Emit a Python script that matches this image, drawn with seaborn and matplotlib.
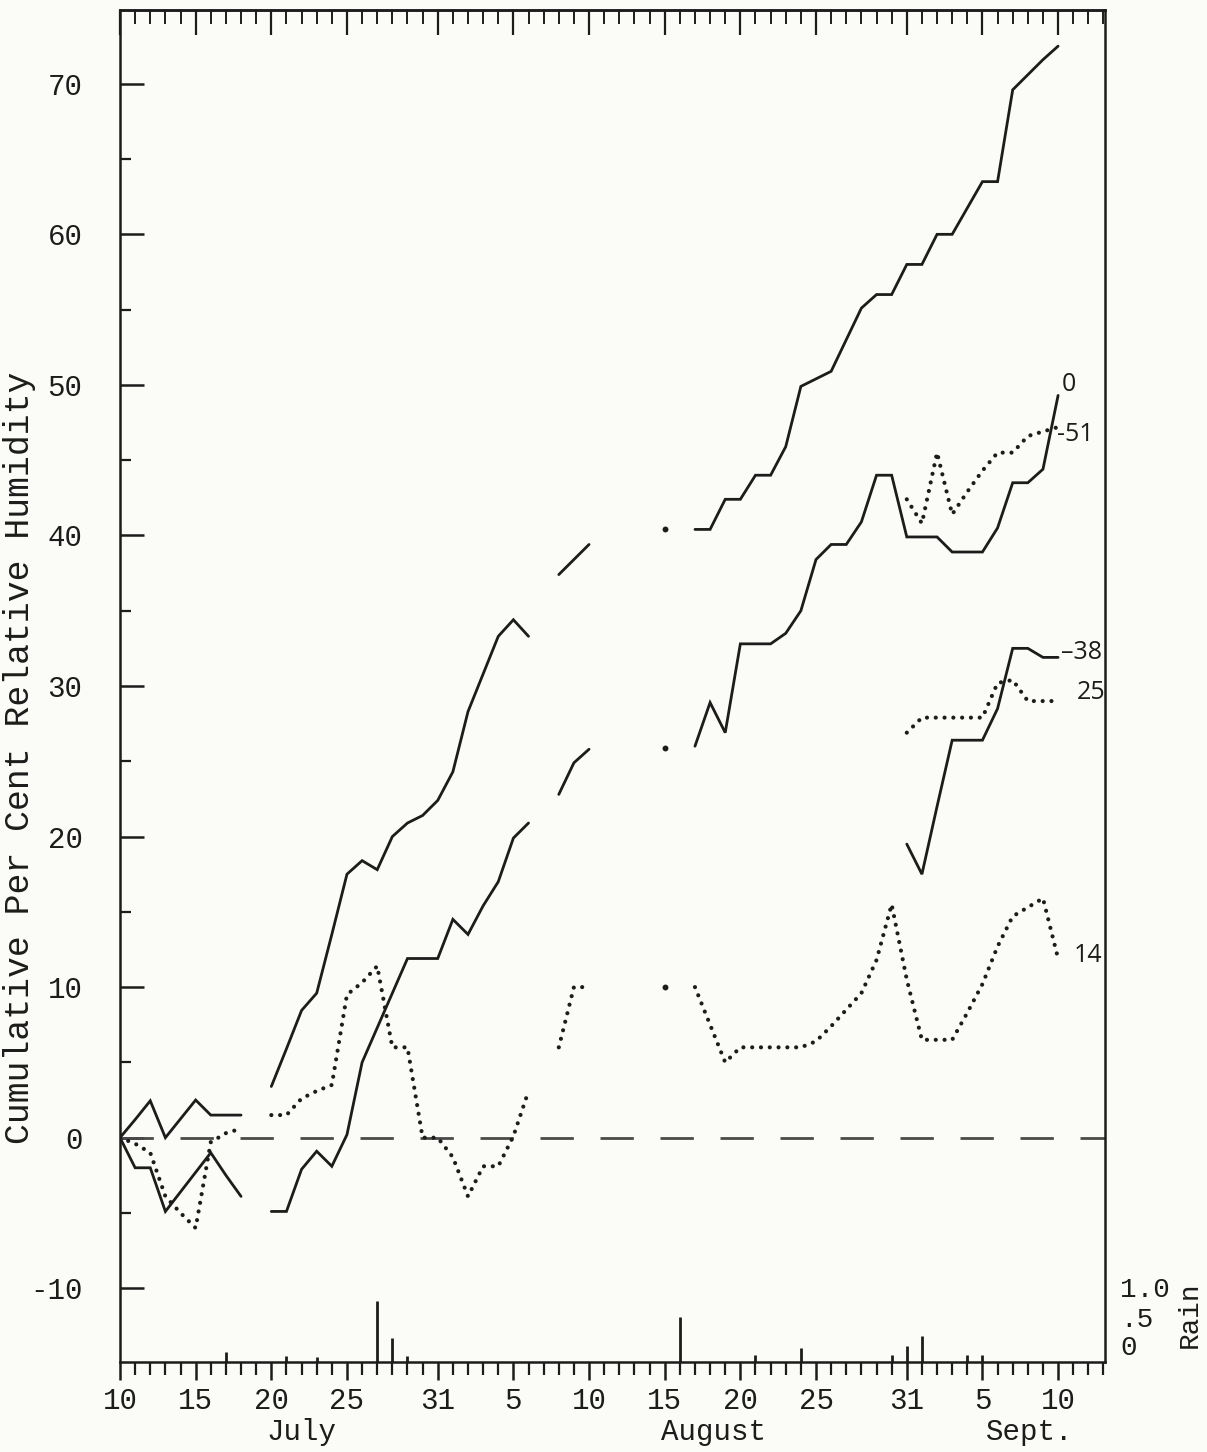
import numpy as np
import pandas as pd
import matplotlib
matplotlib.use("Agg")
import matplotlib.pyplot as plt
from matplotlib.ticker import MultipleLocator
from matplotlib.transforms import ScaledTranslation, blended_transform_factory
import seaborn as sns

nan = np.nan

# ---------------- data ----------------
day = list(range(63))  # days counted from July 10
tick_days = [0, 5, 10, 15, 21, 26, 31, 36, 41, 46, 52, 57, 62]
tick_labels = ["10", "15", "20", "25", "31", "5", "10", "15", "20", "25", "31", "5", "10"]
month_names = ["July", "August", "Sept."]

top_curve = [0, 1.2, 2.45, 0, 1.25, 2.5, 1.5, 1.5, 1.5, nan,
             3.4, 5.9, 8.45, 9.6, 13.5, 17.5, 18.4, 17.8, 20.0, 20.9,
             21.4, 22.4, 24.3, 28.3, 30.8, 33.3, 34.4, 33.3, nan, 37.4,
             38.4, 39.4, nan, nan, nan, nan, 40.4, nan, 40.4, 40.4,
             42.4, 42.4, 44.0, 44.0, 45.9, 49.9, 50.4, 50.9, 53.0, 55.1,
             56.0, 56.0, 58.0, 58.0, 60.0, 60.0, 61.75, 63.5, 63.5, 69.6,
             70.6, 71.6, 72.5]

depth_0 = [0, -2.0, -2.0, -4.9, -3.6, -2.3, -1.0, -2.5, -3.9, nan,
           -4.9, -4.9, -2.1, -0.9, -1.9, 0.2, 5.0, 7.3, 9.6, 11.9,
           11.9, 11.9, 14.5, 13.5, 15.4, 17.0, 19.9, 20.9, nan, 22.8,
           24.9, 25.8, nan, nan, nan, nan, 25.9, nan, 26.0, 28.9,
           26.9, 32.8, 32.8, 32.8, 33.5, 35.0, 38.4, 39.4, 39.4, 40.9,
           44.0, 44.0, 39.9, 39.9, 39.9, 38.9, 38.9, 38.9, 40.5, 43.5,
           43.5, 44.4, 49.3]

depth_14 = [0, -0.4, -1.0, -3.9, -5.0, -6.0, -0.3, 0.3, 0.6, nan,
            1.5, 1.5, 2.6, 3.1, 3.5, 9.5, 10.3, 11.4, 6.0, 6.0,
            0.0, 0.0, -1.3, -3.9, -1.9, -1.9, 0.1, 3.1, nan, 6.0,
            10.0, 10.0, nan, nan, nan, nan, 10.0, nan, 10.0, 7.5,
            5.0, 6.0, 6.0, 6.0, 6.0, 6.0, 6.4, 7.4, 8.5, 9.6,
            11.8, 15.5, 10.5, 6.5, 6.5, 6.5, 8.3, 10.2, 12.7, 14.7,
            15.3, 15.9, 11.9]

depth_25 = [nan] * 52 + [26.9, 27.9, 27.9, 27.9, 27.9, 27.9, 30.2, 30.4, 29.0, 29.0, 29.0]
depth_38 = [nan] * 52 + [19.5, 17.5, 22.0, 26.4, 26.4, 26.4, 28.5, 32.5, 32.5, 31.9, 31.9]
depth_51 = [nan] * 52 + [42.4, 40.8, 45.5, 41.4, 42.9, 44.3, 45.5, 45.5, 46.6, 46.9, 47.2]

rain_day = [7, 11, 13, 17, 18, 19, 37, 42, 45, 51, 52, 53, 56, 57]
rain_inches = [0.13, 0.08, 0.07, 0.81, 0.32, 0.08, 0.60, 0.09, 0.18, 0.09, 0.21, 0.34, 0.09, 0.09]
rain_ticks = [0, 0.5, 1.0]
rain_tick_labels = ["0", ".5", "1.0"]

# ---------------- style / layout ----------------
sns.set_style("ticks")
plt.rcParams["font.family"] = ["Liberation Mono", "DejaVu Sans"]
plt.rcParams["axes.unicode_minus"] = False
paper = "#fbfbf7"
ink = "#1c1c1c"
W, H, DPI = 1207, 1452, 100
L, R, T, B = 120, 1105, 10, 1362
XLIM = (0, 65.1)
YLIM = (-14.9, 74.9)
RAIN_UNITS_PER_INCH = 5.0

fig = plt.figure(figsize=(W / DPI, H / DPI), dpi=DPI, facecolor=paper)
ax = fig.add_axes([L / W, 1 - B / H, (R - L) / W, (B - T) / H])
ax.set_facecolor(paper)


def to_frame(name, values):
    rows, seg, gap = [], 0, True
    for d, v in zip(day, values):
        if np.isnan(v):
            gap = True
            continue
        if gap:
            seg += 1
            gap = False
        rows.append((d, v, f"{name}-{seg}"))
    df = pd.DataFrame(rows, columns=["day", "value", "seg"])
    n = df["seg"].map(df["seg"].value_counts())
    return df[n > 1], df[n == 1]


solid_kw = dict(color=ink, lw=2.0, solid_joinstyle="miter")
dot_kw = dict(color=ink, lw=3.0, linestyle=(0, (0.01, 2.1)), dash_capstyle="round")

series = [("top", top_curve, solid_kw), ("0", depth_0, solid_kw),
          ("38", depth_38, solid_kw), ("14", depth_14, dot_kw),
          ("25", depth_25, dot_kw), ("51", depth_51, dot_kw)]

ax.axhline(0, color="#4a4a4a", lw=2.0, dashes=(12.0, 9.6), zorder=1)

for name, vals, kw in series:
    lines, singles = to_frame(name, vals)
    sns.lineplot(data=lines, x="day", y="value", units="seg", estimator=None,
                 ax=ax, legend=False, zorder=3, **kw)
    if len(singles):
        sns.scatterplot(data=singles, x="day", y="value", ax=ax, color=ink,
                        s=18, linewidth=0, legend=False, zorder=3)

ax.set_xlim(*XLIM)
ax.set_ylim(*YLIM)
ax.set_xlabel("")
ax.set_xticks(tick_days)
ax.set_xticklabels(tick_labels)
ax.xaxis.set_minor_locator(MultipleLocator(1))
ax.tick_params(axis="x", which="major", direction="out", length=13, width=1.8,
               pad=5, labelsize=21, colors=ink, top=False)
ax.tick_params(axis="x", which="minor", direction="out", length=9, width=1.6,
               colors=ink, top=False)
ax.set_yticks(list(range(-10, 71, 10)))
ax.yaxis.set_minor_locator(MultipleLocator(5))
ax.tick_params(axis="y", which="major", direction="in", length=17, width=1.8,
               left=True, right=True, pad=27, labelsize=21, colors=ink)
ax.tick_params(axis="y", which="minor", direction="in", length=8, width=1.6,
               left=True, right=True, colors=ink)
for s in ax.spines.values():
    s.set_visible(True)
    s.set_linewidth(1.8)
    s.set_color(ink)

top = ax.secondary_xaxis("top")
top.set_xticks(tick_days)
top.set_xticklabels([])
top.xaxis.set_minor_locator(MultipleLocator(1))
top.tick_params(which="major", direction="in", length=18, width=1.6, colors=ink, labeltop=False)
top.tick_params(which="minor", direction="in", length=10, width=1.4, colors=ink)
top.spines["top"].set_linewidth(1.8)
top.spines["top"].set_color(ink)

ax.set_ylabel("Cumulative Per Cent Relative Humidity", fontsize=25, color=ink)
ax.yaxis.set_label_coords(-0.085, 0.447)

bt = blended_transform_factory(ax.transData, ax.transAxes)
for name, xpos in zip(month_names, [12.0, 39.2, 60.1]):
    ax.text(xpos, -0.052, name, transform=bt, ha="center", va="center",
            fontsize=21, color=ink)

# rain on a twin scale: 1 inch of rain = 5 humidity units
ax2 = ax.twinx()
ax2.set_ylim(0, (YLIM[1] - YLIM[0]) / RAIN_UNITS_PER_INCH)
ax2.vlines(rain_day, 0, rain_inches, color=ink, lw=2.0)
ax2.set_yticks(rain_ticks)
ax2.set_yticklabels(rain_tick_labels)
ax2.tick_params(axis="y", length=0, pad=11, labelsize=20, colors=ink)
for s in ax2.spines.values():
    s.set_visible(False)
for lbl, dy in zip(ax2.get_yticklabels(), [17, 7, 0]):
    lbl.set_transform(lbl.get_transform() + ScaledTranslation(0, dy / DPI, fig.dpi_scale_trans))
bt2 = blended_transform_factory(ax2.transAxes, ax2.transData)
ax2.text(1.086, 0.63, "Rain", transform=bt2, rotation=90, ha="center", va="center",
         fontsize=20, color=ink)

# hand-written curve labels
hand = dict(family=["Open Sans", "DejaVu Sans"], fontsize=18, color=ink, va="center")
ax.text(62.7, 50.0, "0", ha="center", **hand)
ax.text(61.9, 46.7, "-51", ha="left", **hand)
ax.text(62.2, 32.2, "–38", ha="left", **hand)
ax.text(63.2, 29.6, "25", ha="left", **hand)
ax.text(63.0, 12.1, "14", ha="left", **hand)

fig.savefig("out.png", dpi=DPI, facecolor=paper)
